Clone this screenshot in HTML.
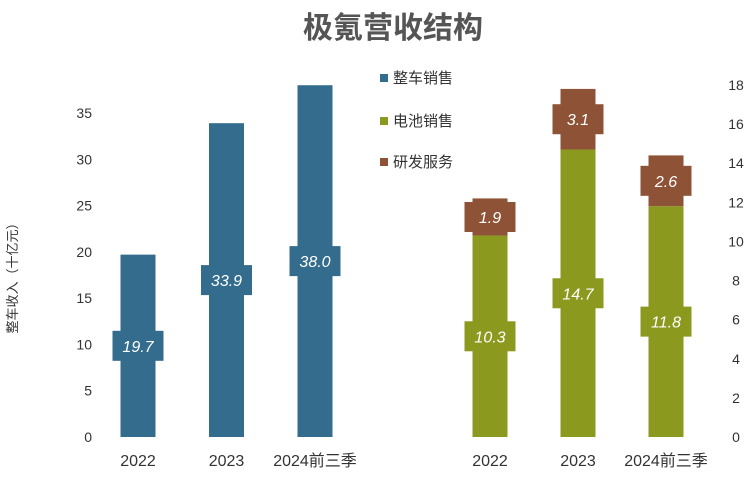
<!DOCTYPE html>
<html><head><meta charset="utf-8"><style>
body{margin:0;background:#fff;}
svg text{font-family:"Liberation Sans","Noto Sans CJK SC",sans-serif;}
</style></head><body>
<svg width="748" height="472" xmlns="http://www.w3.org/2000/svg">
<text x="393" y="38" text-anchor="middle" font-size="30" font-weight="bold" fill="#555">极氪营收结构</text>
<text transform="translate(17,275) rotate(-90)" text-anchor="middle" font-size="13" fill="#333">整车收入（十亿元）</text>
<g id="left-axis"></g>
<g id="right-axis"></g>
<g id="bars"></g>
<g id="xlabels"></g>
<g>
 <g><rect x="380" y="74" width="8" height="8" fill="#336c8c"/><text x="393" y="83" font-size="15" fill="#333">整车销售</text></g>
 <g><rect x="380" y="117" width="8" height="8" fill="#8b9a1f"/><text x="393" y="126" font-size="15" fill="#333">电池销售</text></g>
 <g><rect x="380" y="158" width="8" height="8" fill="#8e5336"/><text x="393" y="167" font-size="15" fill="#333">研发服务</text></g>
</g>
</svg>
<script>
const leftCats=["2022","2023","2024前三季"];
const vehicleSales=[19.7,33.9,38.0];
const rightCats=["2022","2023","2024前三季"];
const batterySales=[10.3,14.7,11.8];
const rdServices=[1.9,3.1,2.6];
const leftTicks=[0,5,10,15,20,25,30,35];
const rightTicks=[0,2,4,6,8,10,12,14,16,18];
const NS="http://www.w3.org/2000/svg";
const y0=437;
const yL=v=>y0-v*(437-113)/35;
const yR=v=>y0-v*(437-85)/18;
const xL=i=>138+i*88.5;
const xR=i=>490+i*88;
const BW=35;
function mk(tag,attrs,parent,txt){const e=document.createElementNS(NS,tag);for(const k in attrs)e.setAttribute(k,attrs[k]);if(txt!==undefined)e.textContent=txt;parent.appendChild(e);return e;}
const la=document.getElementById('left-axis');
leftTicks.forEach(t=>{const e=mk('text',{x:92,y:yL(t)+5,'text-anchor':'end','font-size':14,fill:'#333'},la,t);

});
const ra=document.getElementById('right-axis');
rightTicks.forEach(t=>{const e=mk('text',{x:736,y:yR(t)+5,'text-anchor':'middle','font-size':14,fill:'#333'},ra,t);

});
const bars=document.getElementById('bars');
function label(cx,cy,val,color){
 const r=mk('rect',{x:cx-BW/2-8,y:cy-15,width:BW+16,height:30,fill:color},bars);
 
 
 const t=mk('text',{x:cx,y:cy+6,'text-anchor':'middle','font-size':16,'font-style':'italic',fill:'#fff'},bars,val.toFixed(1));
 
 
}
vehicleSales.forEach((v,i)=>{const cx=xL(i);
 const r=mk('rect',{x:cx-BW/2,y:yL(v),width:BW,height:y0-yL(v),fill:'#336c8c'},bars);
 
 
 label(cx,yL(v/2),v,'#336c8c');});
batterySales.forEach((v,i)=>{const cx=xR(i);const r2=rdServices[i];
 const r=mk('rect',{x:cx-BW/2,y:yR(v),width:BW,height:y0-yR(v),fill:'#8b9a1f'},bars);
 
 
 const b=mk('rect',{x:cx-BW/2,y:yR(v+r2),width:BW,height:yR(v)-yR(v+r2),fill:'#8e5336'},bars);
 
 
 label(cx,yR(v/2),v,'#8b9a1f');
 label(cx,yR(v+r2/2),r2,'#8e5336');});
const xl=document.getElementById('xlabels');
leftCats.forEach((c,i)=>{const e=mk('text',{x:xL(i),y:466,'text-anchor':'middle','font-size':16,fill:'#333'},xl,c);

});
rightCats.forEach((c,i)=>{const e=mk('text',{x:xR(i),y:466,'text-anchor':'middle','font-size':16,fill:'#333'},xl,c);

});
</script>
</body></html>
